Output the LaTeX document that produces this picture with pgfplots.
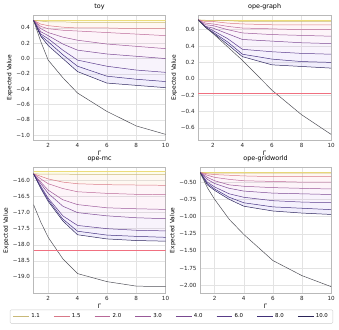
\documentclass[border=0pt]{standalone}
\usepackage{fontspec}
\setmainfont{DejaVu Sans}
\usepackage{pgfplots}
\usepackage{pgfplotstable}
\usepgfplotslibrary{fillbetween}
\pgfplotsset{compat=1.18}
\tikzset{fill between/on layer=main}

\definecolor{ctop}{HTML}{ECDC80}
\definecolor{cred}{HTML}{F07080}
\definecolor{c11}{HTML}{C8B878}
\definecolor{c15}{HTML}{D87888}
\definecolor{c20}{HTML}{B86898}
\definecolor{c30}{HTML}{985898}
\definecolor{c40}{HTML}{784890}
\definecolor{c60}{HTML}{583C88}
\definecolor{c80}{HTML}{403078}
\definecolor{c100}{HTML}{2A2458}
\definecolor{cbase}{HTML}{505058}
\definecolor{f1}{HTML}{F0E040}
\definecolor{f2}{HTML}{F8B070}
\definecolor{f3}{HTML}{F080A0}
\definecolor{f4}{HTML}{E070B0}
\definecolor{f5}{HTML}{C060C0}
\definecolor{f6}{HTML}{A050D0}
\definecolor{f7}{HTML}{8050E0}
\definecolor{f8}{HTML}{6040E0}

% x = Gamma; top = flat reference; a..h = 1.1 ... 10.0; base = steep curve
\pgfplotstableread{
x   top  a     b     c     d     e     f     g     h     base
1   0.50 0.50  0.50  0.50  0.50  0.50  0.50  0.50  0.50  0.50
1.5 0.50 0.49  0.45  0.42  0.39  0.35  0.32  0.30  0.29  0.22
2   0.50 0.48  0.43  0.39  0.34  0.30  0.26  0.22  0.17  -0.02
3   0.50 0.48  0.41  0.37  0.28  0.19  0.11  0.05  0.00  -0.25
4   0.50 0.47  0.40  0.36  0.24  0.11  -0.02 -0.10 -0.17 -0.45
6   0.50 0.47  0.40  0.34  0.19  0.06  -0.10 -0.23 -0.32 -0.69
8   0.50 0.47  0.39  0.32  0.16  0.03  -0.15 -0.27 -0.35 -0.88
10  0.50 0.47  0.39  0.30  0.13  0.00  -0.18 -0.30 -0.38 -0.99
}\ttoy

\pgfplotstableread{
x   top  a     b     c     d     e     f     g     h     base
1   0.72 0.72  0.72  0.72  0.72  0.72  0.72  0.72  0.72  0.72
1.5 0.72 0.715 0.70  0.68  0.66  0.64  0.64  0.63  0.63  0.63
2   0.72 0.71  0.70  0.67  0.65  0.62  0.59  0.57  0.56  0.555
3   0.72 0.71  0.68  0.64  0.60  0.55  0.49  0.45  0.42  0.39
4   0.72 0.70  0.67  0.62  0.56  0.48  0.36  0.30  0.27  0.225
6   0.72 0.70  0.66  0.61  0.54  0.46  0.33  0.24  0.17  -0.14
8   0.72 0.70  0.66  0.60  0.53  0.44  0.31  0.21  0.15  -0.44
10  0.72 0.70  0.66  0.60  0.52  0.43  0.30  0.20  0.13  -0.68
}\tgraph

\pgfplotstableread{
x   top    a      b      c      d      e      f      g      h      base
1   -15.70 -15.79 -15.79 -15.79 -15.79 -15.79 -15.79 -15.79 -15.79 -16.75
1.5 -15.70 -15.80 -15.87 -15.95 -16.05 -16.10 -16.18 -16.22 -16.25 -17.30
2   -15.70 -15.80 -15.95 -16.10 -16.30 -16.40 -16.55 -16.60 -16.65 -17.77
3   -15.70 -15.80 -16.05 -16.25 -16.60 -16.80 -17.10 -17.20 -17.26 -18.44
4   -15.70 -15.81 -16.10 -16.35 -16.75 -17.00 -17.40 -17.58 -17.69 -18.90
6   -15.70 -15.81 -16.13 -16.40 -16.85 -17.10 -17.50 -17.70 -17.82 -19.15
8   -15.70 -15.81 -16.14 -16.43 -16.88 -17.16 -17.55 -17.74 -17.87 -19.29
10  -15.70 -15.81 -16.15 -16.44 -16.90 -17.19 -17.57 -17.77 -17.89 -19.31
}\tmc

\pgfplotstableread{
x   top   a     b     c     d     e     f     g     h     base
1   -0.36 -0.36 -0.36 -0.36 -0.36 -0.36 -0.36 -0.36 -0.36 -0.36
1.5 -0.36 -0.37 -0.38 -0.40 -0.43 -0.46 -0.50 -0.52 -0.54 -0.58
2   -0.36 -0.37 -0.39 -0.43 -0.48 -0.52 -0.57 -0.60 -0.62 -0.75
3   -0.36 -0.37 -0.40 -0.46 -0.54 -0.59 -0.67 -0.72 -0.75 -1.04
4   -0.36 -0.37 -0.41 -0.48 -0.56 -0.63 -0.72 -0.80 -0.85 -1.26
6   -0.36 -0.37 -0.42 -0.49 -0.58 -0.66 -0.77 -0.86 -0.92 -1.64
8   -0.36 -0.37 -0.42 -0.50 -0.59 -0.67 -0.79 -0.88 -0.95 -1.86
10  -0.36 -0.37 -0.42 -0.50 -0.60 -0.68 -0.80 -0.90 -0.97 -2.02
}\tgridw

\newcommand{\curves}[1]{%
  \addplot[name path=ptop, ctop, line width=0.6pt, forget plot] table[x=x, y=top] {#1};
  \addplot[name path=pa, c11, line width=0.5pt] table[x=x, y=a] {#1};
  \addplot[name path=pb, c15, line width=0.5pt] table[x=x, y=b] {#1};
  \addplot[name path=pc, c20, line width=0.5pt] table[x=x, y=c] {#1};
  \addplot[name path=pd, c30, line width=0.5pt] table[x=x, y=d] {#1};
  \addplot[name path=pe, c40, line width=0.5pt] table[x=x, y=e] {#1};
  \addplot[name path=pf, c60, line width=0.5pt] table[x=x, y=f] {#1};
  \addplot[name path=pg, c80, line width=0.5pt] table[x=x, y=g] {#1};
  \addplot[name path=ph, c100, line width=0.5pt] table[x=x, y=h] {#1};
  \addplot[cbase, line width=0.5pt, forget plot] table[x=x, y=base] {#1};
  \addplot[f1, fill opacity=0.10, forget plot] fill between[of=ptop and pa];
  \addplot[f2, fill opacity=0.09, forget plot] fill between[of=pa and pb];
  \addplot[f3, fill opacity=0.08, forget plot] fill between[of=pb and pc];
  \addplot[f4, fill opacity=0.08, forget plot] fill between[of=pc and pd];
  \addplot[f5, fill opacity=0.07, forget plot] fill between[of=pd and pe];
  \addplot[f6, fill opacity=0.07, forget plot] fill between[of=pe and pf];
  \addplot[f7, fill opacity=0.08, forget plot] fill between[of=pf and pg];
  \addplot[f8, fill opacity=0.09, forget plot] fill between[of=pg and ph];
}

\pgfplotsset{
  panel/.style={
    scale only axis, height=127pt,
    xmin=1, xmax=10, xtick={2,4,6,8,10},
    grid=major, grid style={gray!22, line width=0.4pt},
    axis line style={gray!55}, major tick length=0pt,
    tick label style={font=\fontsize{5.7}{6}\selectfont, text=black!85},
    label style={font=\fontsize{6}{7}\selectfont},
    title style={font=\fontsize{6.5}{7}\selectfont, yshift=-4pt},
    xlabel={Γ}, ylabel={Expected Value},
    xlabel style={yshift=3pt}, ylabel style={yshift=-3pt},
    /pgf/number format/assume math mode=true,
    yticklabel={\pgfmathparse{\tick}\ifdim\pgfmathresult pt<0pt −\pgfmathparse{abs(\tick)}\fi\pgfmathprintnumber{\pgfmathresult}},
  },
}

\begin{document}
\begin{tikzpicture}

\begin{axis}[panel, at={(29pt,-15pt)}, anchor=north west, width=134pt,
  title={toy}, ymin=-1.065, ymax=0.57, ytick={-1,-0.8,-0.6,-0.4,-0.2,0,0.2,0.4},
  yticklabel style={/pgf/number format/fixed, /pgf/number format/fixed zerofill, /pgf/number format/precision=1}]
\curves{\ttoy}
\end{axis}

\begin{axis}[panel, at={(196pt,-15pt)}, anchor=north west, width=135pt,
  title={ope-graph}, ymin=-0.75, ymax=0.78, ytick={-0.6,-0.4,-0.2,0,0.2,0.4,0.6},
  yticklabel style={/pgf/number format/fixed, /pgf/number format/fixed zerofill, /pgf/number format/precision=1}]
\curves{\tgraph}
\addplot[draw=cred, line width=0.6pt, forget plot] coordinates {(1,-0.18) (10,-0.18)};
\end{axis}

\begin{axis}[panel, at={(29pt,-170pt)}, anchor=north west, width=134pt,
  title={ope-mc}, ymin=-19.5, ymax=-15.6, ytick={-19,-18.5,-18,-17.5,-17,-16.5,-16},
  yticklabel style={/pgf/number format/fixed, /pgf/number format/fixed zerofill, /pgf/number format/precision=1},
  legend columns=8,
  legend style={at={(1.045,-0.19)}, anchor=center, draw=gray!40, rounded corners=1pt,
    font=\fontsize{5.5}{6}\selectfont, /tikz/every even column/.append style={column sep=12pt}},
  legend image code/.code={\draw[#1] (0pt,0pt) -- (16pt,0pt);},
  legend entries={1.1,1.5,2.0,3.0,4.0,6.0,8.0,10.0}]
\curves{\tmc}
\addplot[draw=cred, line width=0.6pt, forget plot] coordinates {(1,-18.18) (10,-18.18)};
\end{axis}

\begin{axis}[panel, at={(198pt,-170pt)}, anchor=north west, width=133pt,
  title={ope-gridworld}, ymin=-2.11, ymax=-0.29, ytick={-2,-1.75,-1.5,-1.25,-1,-0.75,-0.5},
  yticklabel style={/pgf/number format/fixed, /pgf/number format/fixed zerofill, /pgf/number format/precision=2}]
\curves{\tgridw}
\end{axis}

\path (0,0) rectangle (339pt,-334pt);
\end{tikzpicture}
\end{document}
